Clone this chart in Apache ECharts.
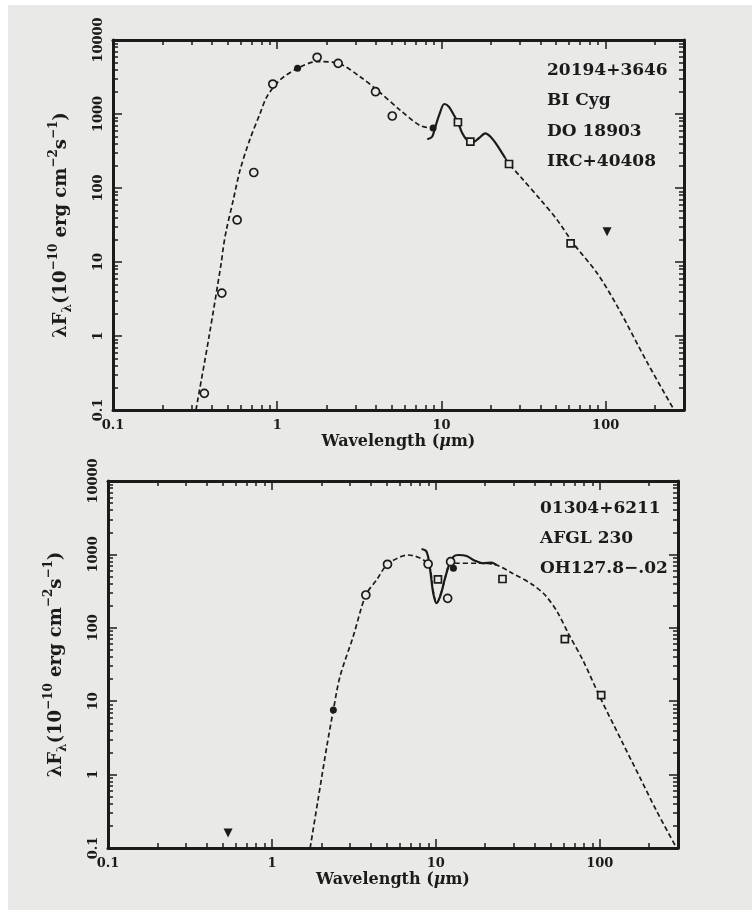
<!DOCTYPE html>
<html lang="en">
<head>
    <meta charset="utf-8"/>
    <title>SED 20194+3646 / 01304+6211</title>
    <style>
        html, body { margin: 0; padding: 0; background: #ffffff; }
        #main { width: 752px; height: 910px; }
    </style>
</head>
<body>
<div id="main"></div>
<script src="https://cdn.jsdelivr.net/npm/echarts@6.0.0/dist/echarts.min.js"></script>
<script>
    // 20194+3646 (upper panel): [wavelength um, lambda F_lambda]
    var upperFitBlue = [[0.32, 0.1], [0.385, 1.0], [0.457, 10], [0.47, 16], [0.49, 27],
        [0.54, 69], [0.594, 175], [0.68, 447], [0.787, 1020], [0.865, 1713], [1.04, 2880], [1.33, 4150],
        [1.75, 5100], [2.35, 4840], [3.2, 3190], [4.05, 2110], [5.6, 1130], [7.4, 700], [8.9, 640]];
    var upperLrs = [[8.2, 455], [8.78, 493], [9.18, 673], [9.77, 1021], [10.4, 1365], [11.1, 1256], [11.9, 968],
        [12.6, 773], [13.4, 548], [14.3, 446], [15.4, 410], [16.9, 470], [18.5, 548], [19.9, 493], [21.8, 381],
        [24.5, 252]];
    var upperFitRed = [[24.5, 252], [25.8, 211], [30.3, 142], [40.2, 69], [50.7, 37], [64, 17.5], [89, 7.0],
        [118, 2.5], [180, 0.43], [261, 0.1]];
    var upperCircles = [[0.36, 0.168], [0.46, 3.8], [0.57, 37], [0.72, 162], [0.94, 2540], [1.75, 5840],
        [2.35, 4840], [3.97, 2000], [5.02, 940]];
    var upperDots = [[1.33, 4150], [8.9, 645]];
    var upperSquares = [[12.6, 773], [15.0, 423], [25.8, 211], [61.2, 17.9]];
    var upperLimits = [[102, 25.6]];
    var upperNames = ['20194+3646', 'BI Cyg', 'DO 18903', 'IRC+40408'];

    // 01304+6211 (lower panel)
    var lowerFit = [[1.71, 0.1], [1.91, 0.45], [2.16, 2.4], [2.37, 7.6], [2.6, 21.6], [3.13, 76], [3.74, 280],
        [4.35, 448], [5.07, 733], [6.78, 981], [8.97, 740], [9.6, 330], [10.1, 216], [10.9, 330], [11.6, 560],
        [12.3, 795], [13.4, 757], [18.5, 757], [22.4, 740], [29, 560], [39.2, 383], [47, 270], [55, 165],
        [65, 80], [79, 36], [100, 11.5], [139, 2.6], [175, 0.93], [222, 0.32], [294, 0.1]];
    var lowerLrs = [[8.18, 1186], [8.7, 1122], [8.97, 931], [9.29, 553], [9.64, 295], [10.1, 216], [10.7, 280],
        [11.3, 448], [12.05, 718], [12.8, 931], [13.7, 981], [15.4, 951], [17.3, 820], [19.4, 757], [21.9, 773],
        [23.4, 718]];
    var lowerCircles = [[3.74, 280], [5.07, 733], [8.97, 740], [11.8, 252], [12.3, 795]];
    var lowerSquares = [[10.3, 458], [25.5, 462], [61.2, 70], [102, 12.1]];
    var lowerDots = [[2.37, 7.6], [12.8, 646]];
    var lowerLimits = [[0.54, 0.16]];
    var lowerNames = ['01304+6211', 'AFGL 230', 'OH127.8\u2212.02'];

    // ticks
    var xDecades = [0.1, 1, 10, 100];
    var xMinor = [0.2, 0.3, 0.4, 0.5, 0.6, 0.7, 0.8, 0.9, 2, 3, 4, 5, 6, 7, 8, 9,
        20, 30, 40, 50, 60, 70, 80, 90, 200, 300];
    var yDecades = [0.1, 1, 10, 100, 1000, 10000];
    var yMinor = [0.2, 0.3, 0.4, 0.5, 0.6, 0.7, 0.8, 0.9, 2, 3, 4, 5, 6, 7, 8, 9,
        20, 30, 40, 50, 60, 70, 80, 90, 200, 300, 400, 500, 600, 700, 800, 900,
        2000, 3000, 4000, 5000, 6000, 7000, 8000, 9000];

    var ink = '#1b1b1b';
    var paper = '#e9e9e7';
    var serif = 'DejaVu Serif';

    var grids = [
        {left: 113, top: 40, width: 571, height: 370},
        {left: 108, top: 481, width: 570, height: 367}
    ];

    function fmt(v) {
        return String(+Number(v).toPrecision(6));
    }

    function xAxisFor(g, pos, ticks, len, main) {
        var ax = {
            type: 'log', logBase: 10, gridIndex: g, position: pos, min: 0.1, max: 300,
            axisLine: {show: main, lineStyle: {color: ink, width: 3}},
            axisTick: {show: true, inside: true, length: len, customValues: ticks,
                lineStyle: {color: ink, width: 1.5}},
            axisLabel: {show: false},
            splitLine: {show: false}
        };
        if (main && pos === 'bottom') {
            ax.axisLabel = {show: true, customValues: xDecades, formatter: fmt, margin: 9,
                fontFamily: serif, fontWeight: 'bold', fontSize: 13, color: ink};
            ax.name = '{b|Wavelength (}{i|\u03bc}{b|m)}';
            ax.nameLocation = 'middle';
            ax.nameGap = 24;
            ax.nameTextStyle = {
                rich: {
                    b: {fontFamily: serif, fontWeight: 'bold', fontSize: 16, color: ink},
                    i: {fontFamily: serif, fontWeight: 'bold', fontStyle: 'italic', fontSize: 16, color: ink}
                }
            };
        }
        return ax;
    }

    function yAxisFor(g, pos, ticks, len, main) {
        var ax = {
            type: 'log', logBase: 10, gridIndex: g, position: pos, min: 0.1, max: 10000,
            axisLine: {show: main, lineStyle: {color: ink, width: 3}},
            axisTick: {show: true, inside: true, length: len, customValues: ticks,
                lineStyle: {color: ink, width: 1.5}},
            axisLabel: {show: false},
            splitLine: {show: false}
        };
        if (main && pos === 'left') {
            ax.axisLabel = {show: true, customValues: yDecades, formatter: fmt, rotate: 90, margin: 8,
                fontFamily: serif, fontWeight: 'bold', fontSize: 13, color: ink};
            ax.name = '{m|\u03bbF}{sub|\u03bb}{m|(10}{sup|\u221210}{m| erg cm}{sup|\u22122}{m|s}{sup|\u22121}{m|)}';
            ax.nameLocation = 'middle';
            ax.nameRotate = 90;
            ax.nameGap = 39;
            ax.nameTextStyle = {
                rich: {
                    m: {fontFamily: serif, fontWeight: 'bold', fontSize: 18, lineHeight: 26,
                        verticalAlign: 'middle', color: ink},
                    sup: {fontFamily: serif, fontWeight: 'bold', fontSize: 12, lineHeight: 13,
                        verticalAlign: 'top', color: ink},
                    sub: {fontFamily: serif, fontWeight: 'bold', fontSize: 12, lineHeight: 13,
                        verticalAlign: 'bottom', color: ink}
                }
            };
        }
        return ax;
    }

    var xAxes = [], yAxes = [];
    for (var g = 0; g < 2; g++) {
        xAxes.push(xAxisFor(g, 'bottom', xDecades, 9, true));
        xAxes.push(xAxisFor(g, 'bottom', xMinor, 5, false));
        xAxes.push(xAxisFor(g, 'top', xDecades, 9, true));
        xAxes.push(xAxisFor(g, 'top', xMinor, 5, false));
        yAxes.push(yAxisFor(g, 'left', yDecades, 9, true));
        yAxes.push(yAxisFor(g, 'left', yMinor, 5, false));
        yAxes.push(yAxisFor(g, 'right', yDecades, 9, true));
        yAxes.push(yAxisFor(g, 'right', yMinor, 5, false));
    }

    function curve(g, data, dashed) {
        return {
            type: 'line', xAxisIndex: 4 * g, yAxisIndex: 4 * g, data: data,
            symbol: 'none', smooth: 0.3, silent: true, z: 3,
            lineStyle: {color: ink, width: dashed ? 1.7 : 2.2, type: dashed ? [5, 3] : 'solid'}
        };
    }

    function marks(g, data, symbol, size, filled, rotate) {
        return {
            type: 'scatter', xAxisIndex: 4 * g, yAxisIndex: 4 * g, data: data,
            symbol: symbol, symbolSize: size, symbolRotate: rotate || 0, silent: true, z: 5,
            itemStyle: {color: filled ? ink : paper, borderColor: ink, borderWidth: filled ? 0 : 1.7, opacity: 1}
        };
    }

    function nameBlock(x, y0, step, lines) {
        var out = [];
        for (var i = 0; i < lines.length; i++) {
            out.push({
                type: 'text', left: x, top: y0 + i * step, silent: true, z: 10,
                style: {text: lines[i], fill: ink, font: 'bold 17px "' + serif + '"'}
            });
        }
        return out;
    }

    var chart = echarts.init(document.getElementById('main'));
    var option = {
        animation: false,
        backgroundColor: paper,
        grid: grids,
        xAxis: xAxes,
        yAxis: yAxes,
        graphic: [
            {type: 'rect', shape: {x: 0, y: 0, width: 752, height: 5}, style: {fill: '#ffffff'}, silent: true},
            {type: 'rect', shape: {x: 0, y: 0, width: 8, height: 910}, style: {fill: '#ffffff'}, silent: true}
        ].concat(nameBlock(547, 62, 30.5, upperNames)).concat(nameBlock(540, 500, 30, lowerNames)),
        series: [
            curve(0, upperFitBlue, true),
            curve(0, upperLrs, false),
            curve(0, upperFitRed, true),
            marks(0, upperCircles, 'circle', 8, false),
            marks(0, upperSquares, 'rect', 7, false),
            marks(0, upperDots, 'circle', 7, true),
            marks(0, upperLimits, 'triangle', 9, true, 180),

            curve(1, lowerFit, true),
            curve(1, lowerLrs, false),
            marks(1, lowerCircles, 'circle', 8, false),
            marks(1, lowerSquares, 'rect', 7, false),
            marks(1, lowerDots, 'circle', 7, true),
            marks(1, lowerLimits, 'triangle', 9, true, 180)
        ]
    };
    chart.setOption(option);
</script>
</body>
</html>
